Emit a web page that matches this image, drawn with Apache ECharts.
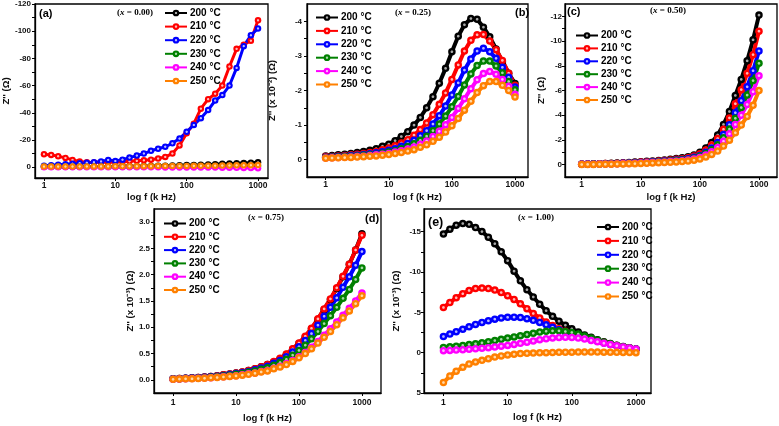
<!DOCTYPE html>
<html>
<head>
<meta charset="utf-8">
<script src="https://cdn.jsdelivr.net/npm/echarts@6/dist/echarts.min.js"></script>
<style>html,body{margin:0;padding:0;background:#fff;}#c{width:779px;height:426px;}</style>
</head>
<body>
<div id="c"></div>
<script>
// ---- data ----
const FREQ_KHZ = [1,1.26,1.58,2,2.51,3.16,3.98,5.01,6.31,7.94,10,12.6,15.8,20,25.1,31.6,39.8,50.1,63.1,79.4,100,126,158,200,251,316,398,501,631,794,1000];
const TEMPS = ['200 °C','210 °C','220 °C','230 °C','240 °C','250 °C'];
const X_TICKS = [1,10,100,1000];

// (a) x = 0.00
const A200 = [-0.3,-0.3,-0.3,-0.35,-0.35,-0.4,-0.4,-0.45,-0.5,-0.5,-0.55,-0.6,-0.65,-0.7,-0.8,-0.9,-1.0,-1.1,-1.2,-1.35,-1.5,-1.65,-1.8,-2.0,-2.2,-2.4,-2.6,-2.8,-3.1,-3.3,-3.5];
const A210 = [-9.5,-9,-8,-6.8,-5.3,-4.2,-3.6,-3.4,-3.5,-3.6,-3.8,-4.0,-4.3,-4.6,-5.0,-5.5,-6.3,-7.5,-10,-16,-25,-32,-43,-50,-54,-60,-74,-87,-90,-93,-108];
const A220 = [-1.0,-1.3,-1.7,-2.1,-2.5,-2.9,-3.2,-3.6,-4.2,-5.3,-4.5,-5.5,-7,-8.5,-10,-12,-13.5,-15,-17.5,-21,-26,-31,-36,-42,-49,-53,-60,-73,-89,-97,-102];
const A230 = [-0.2,-0.2,-0.2,-0.2,-0.2,-0.25,-0.25,-0.25,-0.3,-0.3,-0.3,-0.3,-0.35,-0.35,-0.35,-0.4,-0.4,-0.4,-0.45,-0.45,-0.5,-0.5,-0.55,-0.55,-0.6,-0.6,-0.65,-0.7,-0.7,-0.75,-0.8];
const A240 = [0,0,0,0,0,0,0.05,0.05,0.05,0.05,0.1,0.1,0.1,0.1,0.15,0.15,0.15,0.2,0.2,0.2,0.25,0.25,0.3,0.3,0.35,0.4,0.45,0.5,0.6,0.7,0.8];
const A250 = [-0.4,-0.4,-0.4,-0.45,-0.45,-0.5,-0.5,-0.5,-0.55,-0.55,-0.6,-0.6,-0.65,-0.65,-0.7,-0.7,-0.75,-0.8,-0.8,-0.85,-0.9,-0.95,-1.0,-1.05,-1.1,-1.15,-1.2,-1.3,-1.35,-1.4,-1.5];

// (b) x = 0.25
const B200 = [-0.11,-0.12,-0.14,-0.16,-0.18,-0.21,-0.24,-0.27,-0.32,-0.39,-0.45,-0.55,-0.67,-0.81,-1.0,-1.22,-1.5,-1.82,-2.21,-2.64,-3.12,-3.57,-3.9,-4.08,-4.06,-3.83,-3.55,-3.2,-2.83,-2.5,-2.2];
const B210 = [-0.09,-0.095,-0.11,-0.12,-0.14,-0.16,-0.18,-0.21,-0.24,-0.29,-0.34,-0.4,-0.48,-0.58,-0.71,-0.87,-1.06,-1.3,-1.6,-1.93,-2.32,-2.74,-3.14,-3.45,-3.61,-3.62,-3.43,-3.18,-2.87,-2.5,-2.15];
const B220 = [-0.07,-0.08,-0.09,-0.1,-0.12,-0.13,-0.15,-0.17,-0.2,-0.23,-0.27,-0.32,-0.39,-0.47,-0.56,-0.69,-0.84,-1.03,-1.27,-1.55,-1.87,-2.22,-2.59,-2.91,-3.14,-3.22,-3.12,-2.93,-2.67,-2.38,-2.1];
const B230 = [-0.06,-0.07,-0.075,-0.09,-0.1,-0.11,-0.13,-0.14,-0.16,-0.19,-0.22,-0.26,-0.32,-0.38,-0.46,-0.56,-0.68,-0.84,-1.03,-1.26,-1.53,-1.83,-2.16,-2.48,-2.72,-2.85,-2.85,-2.71,-2.51,-2.26,-2.02];
const B240 = [-0.05,-0.056,-0.064,-0.07,-0.08,-0.09,-0.1,-0.12,-0.14,-0.16,-0.18,-0.22,-0.26,-0.31,-0.37,-0.45,-0.54,-0.67,-0.82,-1.01,-1.22,-1.48,-1.76,-2.05,-2.31,-2.49,-2.55,-2.47,-2.32,-2.12,-1.89];
const B250 = [-0.04,-0.048,-0.053,-0.06,-0.067,-0.076,-0.086,-0.1,-0.11,-0.13,-0.15,-0.18,-0.21,-0.25,-0.29,-0.36,-0.43,-0.53,-0.65,-0.8,-0.98,-1.19,-1.43,-1.69,-1.94,-2.14,-2.26,-2.26,-2.15,-2.0,-1.81];

// (c) x = 0.50
const C200 = [-0.05,-0.06,-0.07,-0.08,-0.1,-0.11,-0.13,-0.15,-0.18,-0.21,-0.24,-0.27,-0.3,-0.34,-0.38,-0.43,-0.49,-0.55,-0.63,-0.78,-1.0,-1.35,-1.8,-2.4,-3.25,-4.3,-5.6,-6.9,-8.4,-10.1,-12.1];
const C210 = [-0.04,-0.05,-0.06,-0.07,-0.09,-0.1,-0.11,-0.13,-0.16,-0.18,-0.21,-0.24,-0.26,-0.3,-0.33,-0.38,-0.43,-0.48,-0.55,-0.69,-0.88,-1.19,-1.58,-2.11,-2.86,-3.78,-4.93,-6.07,-7.39,-8.9,-10.8];
const C220 = [-0.04,-0.045,-0.05,-0.06,-0.075,-0.08,-0.1,-0.11,-0.135,-0.16,-0.18,-0.2,-0.23,-0.26,-0.29,-0.32,-0.37,-0.41,-0.47,-0.59,-0.75,-1.01,-1.35,-1.8,-2.44,-3.23,-4.2,-5.18,-6.3,-7.6,-9.2];
const C230 = [-0.03,-0.04,-0.05,-0.05,-0.07,-0.07,-0.09,-0.1,-0.12,-0.14,-0.16,-0.18,-0.2,-0.23,-0.25,-0.29,-0.33,-0.37,-0.42,-0.52,-0.67,-0.9,-1.21,-1.61,-2.18,-2.88,-3.75,-4.62,-5.63,-6.8,-8.2];
const C240 = [-0.03,-0.03,-0.04,-0.05,-0.06,-0.06,-0.08,-0.09,-0.1,-0.12,-0.14,-0.16,-0.17,-0.2,-0.22,-0.25,-0.28,-0.32,-0.37,-0.45,-0.58,-0.78,-1.04,-1.39,-1.89,-2.49,-3.25,-4.0,-4.87,-5.9,-7.2];
const C250 = [-0.01,-0.02,-0.02,-0.03,-0.03,-0.04,-0.05,-0.06,-0.07,-0.08,-0.1,-0.11,-0.13,-0.15,-0.17,-0.19,-0.22,-0.25,-0.29,-0.36,-0.46,-0.62,-0.83,-1.1,-1.5,-1.98,-2.58,-3.2,-3.9,-4.8,-6.0];

// (d) x = 0.75
const D200 = [0.02,0.025,0.03,0.04,0.045,0.055,0.065,0.08,0.095,0.11,0.13,0.15,0.18,0.21,0.25,0.29,0.34,0.4,0.48,0.58,0.69,0.82,0.97,1.15,1.34,1.53,1.74,1.96,2.2,2.47,2.78];
const D210 = [0.02,0.025,0.03,0.04,0.045,0.055,0.065,0.08,0.095,0.11,0.13,0.15,0.18,0.21,0.25,0.29,0.35,0.41,0.49,0.59,0.7,0.83,0.98,1.16,1.35,1.54,1.75,1.97,2.2,2.47,2.75];
const D220 = [0.02,0.02,0.03,0.035,0.04,0.05,0.06,0.07,0.085,0.1,0.12,0.135,0.16,0.19,0.225,0.26,0.315,0.37,0.44,0.53,0.63,0.75,0.88,1.04,1.21,1.38,1.56,1.76,1.96,2.18,2.44];
const D230 = [0.015,0.02,0.025,0.03,0.035,0.045,0.05,0.065,0.075,0.09,0.105,0.12,0.145,0.17,0.2,0.23,0.28,0.33,0.39,0.47,0.56,0.66,0.78,0.92,1.07,1.22,1.38,1.55,1.72,1.91,2.13];
const D240 = [0.01,0.015,0.02,0.025,0.03,0.035,0.04,0.05,0.06,0.07,0.08,0.095,0.115,0.13,0.16,0.18,0.22,0.26,0.31,0.37,0.44,0.52,0.62,0.73,0.85,0.97,1.1,1.23,1.36,1.5,1.65];
const D250 = [0.01,0.015,0.02,0.02,0.025,0.03,0.04,0.045,0.055,0.065,0.075,0.09,0.105,0.125,0.15,0.17,0.21,0.245,0.29,0.35,0.42,0.5,0.59,0.7,0.81,0.92,1.05,1.18,1.31,1.45,1.6];

// (e) x = 1.00
const E200 = [-14.7,-15.3,-15.8,-16.0,-15.9,-15.5,-15.0,-14.3,-13.5,-12.5,-11.4,-10.1,-8.9,-7.8,-6.9,-6.0,-5.2,-4.5,-3.9,-3.4,-2.95,-2.55,-2.2,-1.9,-1.6,-1.35,-1.12,-0.92,-0.75,-0.6,-0.45];
const E210 = [-5.6,-6.2,-6.8,-7.3,-7.7,-7.95,-8.0,-7.95,-7.75,-7.45,-7.05,-6.6,-6.05,-5.45,-4.85,-4.3,-3.8,-3.35,-2.95,-2.65,-2.4,-2.1,-1.85,-1.65,-1.45,-1.25,-1.05,-0.88,-0.72,-0.58,-0.45];
const E220 = [-2.0,-2.3,-2.6,-2.9,-3.2,-3.5,-3.75,-3.95,-4.15,-4.3,-4.38,-4.4,-4.35,-4.2,-4.0,-3.75,-3.45,-3.15,-2.85,-2.55,-2.3,-2.05,-1.82,-1.6,-1.4,-1.2,-1.02,-0.85,-0.7,-0.56,-0.45];
const E230 = [-0.65,-0.72,-0.8,-0.9,-1.0,-1.1,-1.22,-1.35,-1.5,-1.65,-1.8,-1.95,-2.1,-2.25,-2.4,-2.55,-2.65,-2.7,-2.7,-2.62,-2.5,-2.3,-2.05,-1.8,-1.55,-1.3,-1.1,-0.9,-0.72,-0.58,-0.45];
const E240 = [-0.25,-0.28,-0.32,-0.36,-0.42,-0.48,-0.55,-0.62,-0.7,-0.8,-0.9,-1.02,-1.15,-1.3,-1.45,-1.6,-1.72,-1.82,-1.88,-1.9,-1.88,-1.8,-1.68,-1.52,-1.35,-1.17,-1.0,-0.85,-0.7,-0.58,-0.45];
const E250 = [3.7,2.9,2.3,1.8,1.4,1.15,0.95,0.75,0.55,0.4,0.28,0.2,0.12,0.08,0.05,0.02,0,-0.02,-0.04,-0.05,-0.06,-0.07,-0.07,-0.07,-0.07,-0.06,-0.05,-0.04,-0.03,-0.02,0];

const PANEL_DATA = [
  [A200,A210,A220,A230,A240,A250],
  [B200,B210,B220,B230,B240,B250],
  [C200,C210,C220,C230,C240,C250],
  [D200,D210,D220,D230,D240,D250],
  [E200,E210,E220,E230,E240,E250]
];
const Y_LABELS = [
  [-120,-100,-80,-60,-40,-20,0],
  [-4,-3,-2,-1,0],
  [-12,-10,-8,-6,-4,-2,0],
  [0,0.5,1,1.5,2,2.5,3],
  [-15,-10,-5,0,5]
];
const Y_MINOR = [
  [-110,-90,-70,-50,-30,-10],
  [-3.5,-2.5,-1.5,-0.5],
  [-11,-9,-7,-5,-3,-1],
  [0.25,0.75,1.25,1.75,2.25,2.75],
  [-12.5,-7.5,-2.5,2.5]
];
const Y_NAMES = ["Z'' (\u03A9)", "Z'' (x 10\u207B\u00B2) (\u03A9)", "Z'' (\u03A9)", "Z'' (x 10\u207B\u00B3) (\u03A9)", "Z'' (x 10\u207B\u00B3) (\u03A9)"];
const X_NAME = 'log f (k Hz)';
const PANEL_TAGS = ['(a)','(b)','(c)','(d)','(e)'];
const COMPOSITIONS = ['0.00','0.25','0.50','0.75','1.00'];

// ---- styles / layout ----
const COLORS = ['#000000','#ff0000','#0000ff','#008000','#ff00ff','#ff8000'];
const LIGHTS = ['#a8a8a8','#ffb8b8','#b8b8ff','#a8d8a8','#ffb8ff','#ffd8a8'];
const SANS = '"Liberation Sans", Arial, sans-serif';
const SERIF = '"Liberation Serif", "Times New Roman", serif';

const LAYOUT = [
  {grid:{left:35,top:4,width:233,height:174}, x:[-0.126,3.14], y:[-120,8], inv:true, yMargin:4, xMargin:3, nameGap:24, xNameGap:14, sym:6.5, lw:3,
   legend:{left:164,top:8,gap:3.6}, tag:[39,13.5,11], comp:[117,12.5]},
  {grid:{left:307,top:4,width:221,height:173}, x:[-0.296,3.206], y:[-4.5,0.5], inv:true, yMargin:5, xMargin:3, nameGap:30, xNameGap:15, sym:7.5, lw:4,
   legend:{left:315,top:12.5,gap:3.4}, tag:[515,13,11], comp:[395,12.5]},
  {grid:{left:565,top:4,width:212,height:173}, x:[-0.283,3.305], y:[-13,1], inv:true, yMargin:3, xMargin:3, nameGap:13, xNameGap:15, sym:7.5, lw:4,
   legend:{left:575,top:30.5,gap:2.9}, tag:[567,11.5,11], comp:[650,11]},
  {grid:{left:154,top:209,width:227,height:184}, x:[-0.303,3.303], y:[-0.25,3.25], inv:false, yMargin:4, xMargin:5, nameGap:17, xNameGap:20, sym:7.5, lw:4,
   legend:{left:163,top:218.5,gap:3.3}, tag:[365,218.5,11], comp:[248,218]},
  {grid:{left:424,top:209,width:227,height:184}, x:[-0.303,3.234], y:[-17.8,5], inv:true, yMargin:3, xMargin:5, nameGap:23, xNameGap:19, sym:7.5, lw:4,
   legend:{left:596,top:222,gap:3.9}, tag:[428,222.5,12.5], comp:[518,218]}
];

function ball(i){
  return {type:'radial', x:0.5, y:0.5, r:0.5, colorStops:[
    {offset:0, color:LIGHTS[i]}, {offset:0.22, color:LIGHTS[i]}, {offset:0.48, color:COLORS[i]}, {offset:1, color:COLORS[i]}]};
}

const grids = [], xAxes = [], yAxes = [], series = [], legends = [], graphics = [];
LAYOUT.forEach((L, p) => {
  grids.push(Object.assign({show:true, borderColor:'#000', borderWidth:1.3, containLabel:false}, L.grid));
  xAxes.push({
    gridIndex:p, type:'value', min:L.x[0], max:L.x[1],
    name:X_NAME, nameLocation:'middle', nameGap:L.xNameGap,
    nameTextStyle:{fontFamily:SANS, fontWeight:'bold', fontSize:9.6, color:'#111'},
    axisLine:{show:true, onZero:false, lineStyle:{color:'#000', width:1.3}},
    axisTick:{show:true, length:3, customValues:X_TICKS.map(v=>Math.log10(v)), lineStyle:{color:'#000', width:1}},
    axisLabel:{customValues:X_TICKS.map(v=>Math.log10(v)), margin:L.xMargin, fontFamily:SANS, fontWeight:'bold', fontSize:8.5, color:'#111',
      formatter:v=>String(Math.round(Math.pow(10,v)))},
    splitLine:{show:false}
  });
  yAxes.push({
    gridIndex:p, type:'value', min:L.y[0], max:L.y[1], inverse:L.inv,
    name:Y_NAMES[p], nameLocation:'middle', nameGap:L.nameGap,
    nameTextStyle:{fontFamily:SANS, fontWeight:'bold', fontSize:9.6, color:'#111'},
    axisLine:{show:true, onZero:false, lineStyle:{color:'#000', width:1.3}},
    axisTick:{show:true, length:3, customValues:Y_LABELS[p].concat(Y_MINOR[p]), lineStyle:{color:'#000', width:1}},
    axisLabel:{customValues:Y_LABELS[p], margin:L.yMargin, fontFamily:SANS, fontWeight:'bold', fontSize:8, color:'#111',
      formatter:v=> p===3 ? v.toFixed(1) : String(v)},
    splitLine:{show:false}
  });
  PANEL_DATA[p].forEach((vals, k) => {
    series.push({
      type:'line', name:TEMPS[k], xAxisIndex:p, yAxisIndex:p,
      data:FREQ_KHZ.map((f,j)=>[Math.log10(f), vals[j]]),
      symbol:'circle', symbolSize:L.sym, showAllSymbol:true,
      lineStyle:{color:COLORS[k], width:L.lw},
      itemStyle:{color:ball(k)},
      emphasis:{disabled:true}, silent:true
    });
  });
  legends.push({
    data:TEMPS, orient:'vertical', left:L.legend.left, top:L.legend.top,
    itemWidth:22, itemHeight:8.4, itemGap:L.legend.gap, selectedMode:false, padding:0,
    itemStyle:{color:'inherit'},
    lineStyle:{width:2},
    textStyle:{fontFamily:SANS, fontWeight:'bold', fontSize:10, color:'#000', padding:[0,0,0,-2]}
  });
  graphics.push({type:'text', x:L.tag[0], y:L.tag[1], style:{text:PANEL_TAGS[p], font:'bold '+L.tag[2]+'px '+SANS, fill:'#000', verticalAlign:'middle', align:'left'}});
  graphics.push({type:'text', x:L.comp[0], y:L.comp[1], style:{
    text:'{n|(}{i|x}{n| = '+COMPOSITIONS[p]+')}', verticalAlign:'middle', align:'left',
    rich:{n:{fontFamily:SERIF, fontWeight:'bold', fontSize:9, fill:'#000'}, i:{fontFamily:SERIF, fontWeight:'bold', fontStyle:'italic', fontSize:9, fill:'#000'}}
  }});
});

const chart = echarts.init(document.getElementById('c'), null, {renderer:'canvas'});
chart.setOption({
  animation:false, backgroundColor:'#fff',
  grid:grids, xAxis:xAxes, yAxis:yAxes, series:series, legend:legends, graphic:graphics
});
</script>
</body>
</html>
